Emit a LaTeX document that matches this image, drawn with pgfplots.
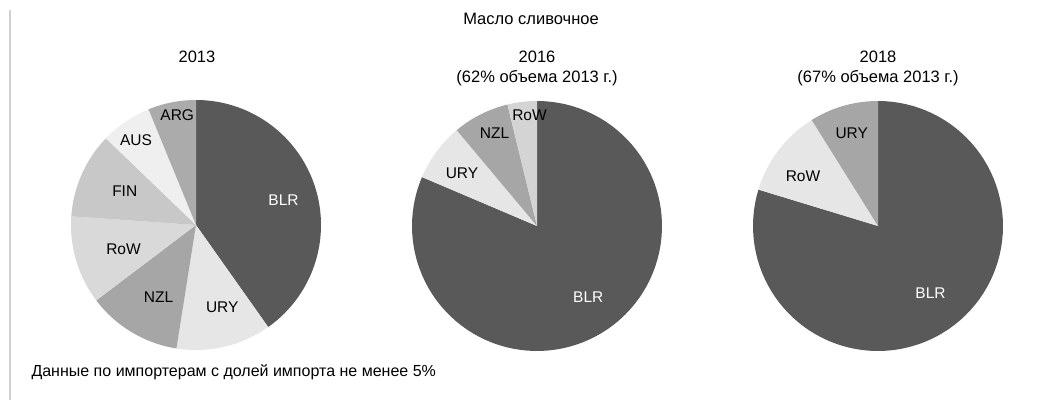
\documentclass[border=0pt]{standalone}
\usepackage{pgfplots}
\pgfplotsset{compat=1.18}
\usepackage{fontspec}
\setmainfont{Liberation Sans}
\definecolor{cBLR}{HTML}{595959}
\definecolor{cLight}{HTML}{E6E6E6}
\definecolor{cMid}{HTML}{A6A6A6}
\definecolor{cRoW}{HTML}{D9D9D9}
\definecolor{cFIN}{HTML}{C8C8C8}
\definecolor{cAUS}{HTML}{EFEFEF}
\definecolor{cARG}{HTML}{ABABAB}
\definecolor{cRoWb}{HTML}{D4D4D4}
% slice: start share (cumulative %), end share (cumulative %), colour
\newcommand{\slice}[3]{%
  \addplot[fill=#3, draw=none, domain={90-3.6*(#2)}:{90-3.6*(#1)}, samples=90, variable=\t]
    ({cos(\t)},{sin(\t)}) -- (0,0) -- cycle;}
\tikzset{lbl/.style={font=\fontsize{15.5bp}{17bp}\selectfont}}
\pgfplotsset{pie/.style={anchor=origin, x=125bp, y=125bp, xmin=-1.05, xmax=1.05,
  ymin=-1.05, ymax=1.05, hide axis, clip=false}}
\begin{document}
\begin{tikzpicture}
\path[use as bounding box] (0,0) rectangle (1062bp,400bp);
\draw[black!18, line width=1.2bp] (10bp,0) -- (10bp,390bp);
% 2013: BLR 40.2, URY 12.3, NZL 12.2, RoW 11.4, FIN 11.1, AUS 6.6, ARG 6.2
\begin{axis}[pie, at={(196bp,175bp)}]
\slice{0}{40.2}{cBLR}
\slice{40.2}{52.5}{cLight}
\slice{52.5}{64.7}{cMid}
\slice{64.7}{76.1}{cRoW}
\slice{76.1}{87.2}{cFIN}
\slice{87.2}{93.8}{cAUS}
\slice{93.8}{100}{cARG}
\node[lbl,white] at (axis cs:0.70,0.20) {BLR};
\node[lbl] at (axis cs:0.21,-0.66) {URY};
\node[lbl] at (axis cs:-0.30,-0.58) {NZL};
\node[lbl] at (axis cs:-0.58,-0.19) {RoW};
\node[lbl] at (axis cs:-0.57,0.27) {FIN};
\node[lbl] at (axis cs:-0.48,0.68) {AUS};
\node[lbl] at (axis cs:-0.15,0.88) {ARG};
\end{axis}
% 2016: BLR 81.4, URY 7.5, NZL 7.3, RoW 3.8
\begin{axis}[pie, at={(537bp,174bp)}]
\slice{0}{81.4}{cBLR}
\slice{81.4}{88.9}{cLight}
\slice{88.9}{96.2}{cMid}
\slice{96.2}{100}{cRoWb}
\node[lbl,white] at (axis cs:0.41,-0.57) {BLR};
\node[lbl] at (axis cs:-0.60,0.42) {URY};
\node[lbl] at (axis cs:-0.34,0.74) {NZL};
\node[lbl] at (axis cs:-0.06,0.89) {RoW};
\end{axis}
% 2018: BLR 79.7, RoW 11.4, URY 8.9
\begin{axis}[pie, at={(878bp,174bp)}]
\slice{0}{79.7}{cBLR}
\slice{79.7}{91.1}{cLight}
\slice{91.1}{100}{cMid}
\node[lbl,white] at (axis cs:0.42,-0.54) {BLR};
\node[lbl] at (axis cs:-0.60,0.40) {RoW};
\node[lbl] at (axis cs:-0.21,0.74) {URY};
\end{axis}
\begin{scope}[every node/.style={font=\fontsize{16.5bp}{18bp}\selectfont}]
\node at (531bp,381bp) {Масло сливочное};
\node at (197bp,343bp) {2013};
\node at (537bp,343bp) {2016};
\node at (537bp,322bp) {(62\% объема 2013 г.)};
\node at (878bp,343bp) {2018};
\node at (878bp,322bp) {(67\% объема 2013 г.)};
\end{scope}
\node[anchor=west, font=\fontsize{16bp}{18bp}\selectfont] at (28bp,28bp) {Данные по импортерам с долей импорта не менее 5\%};
\end{tikzpicture}
\end{document}
